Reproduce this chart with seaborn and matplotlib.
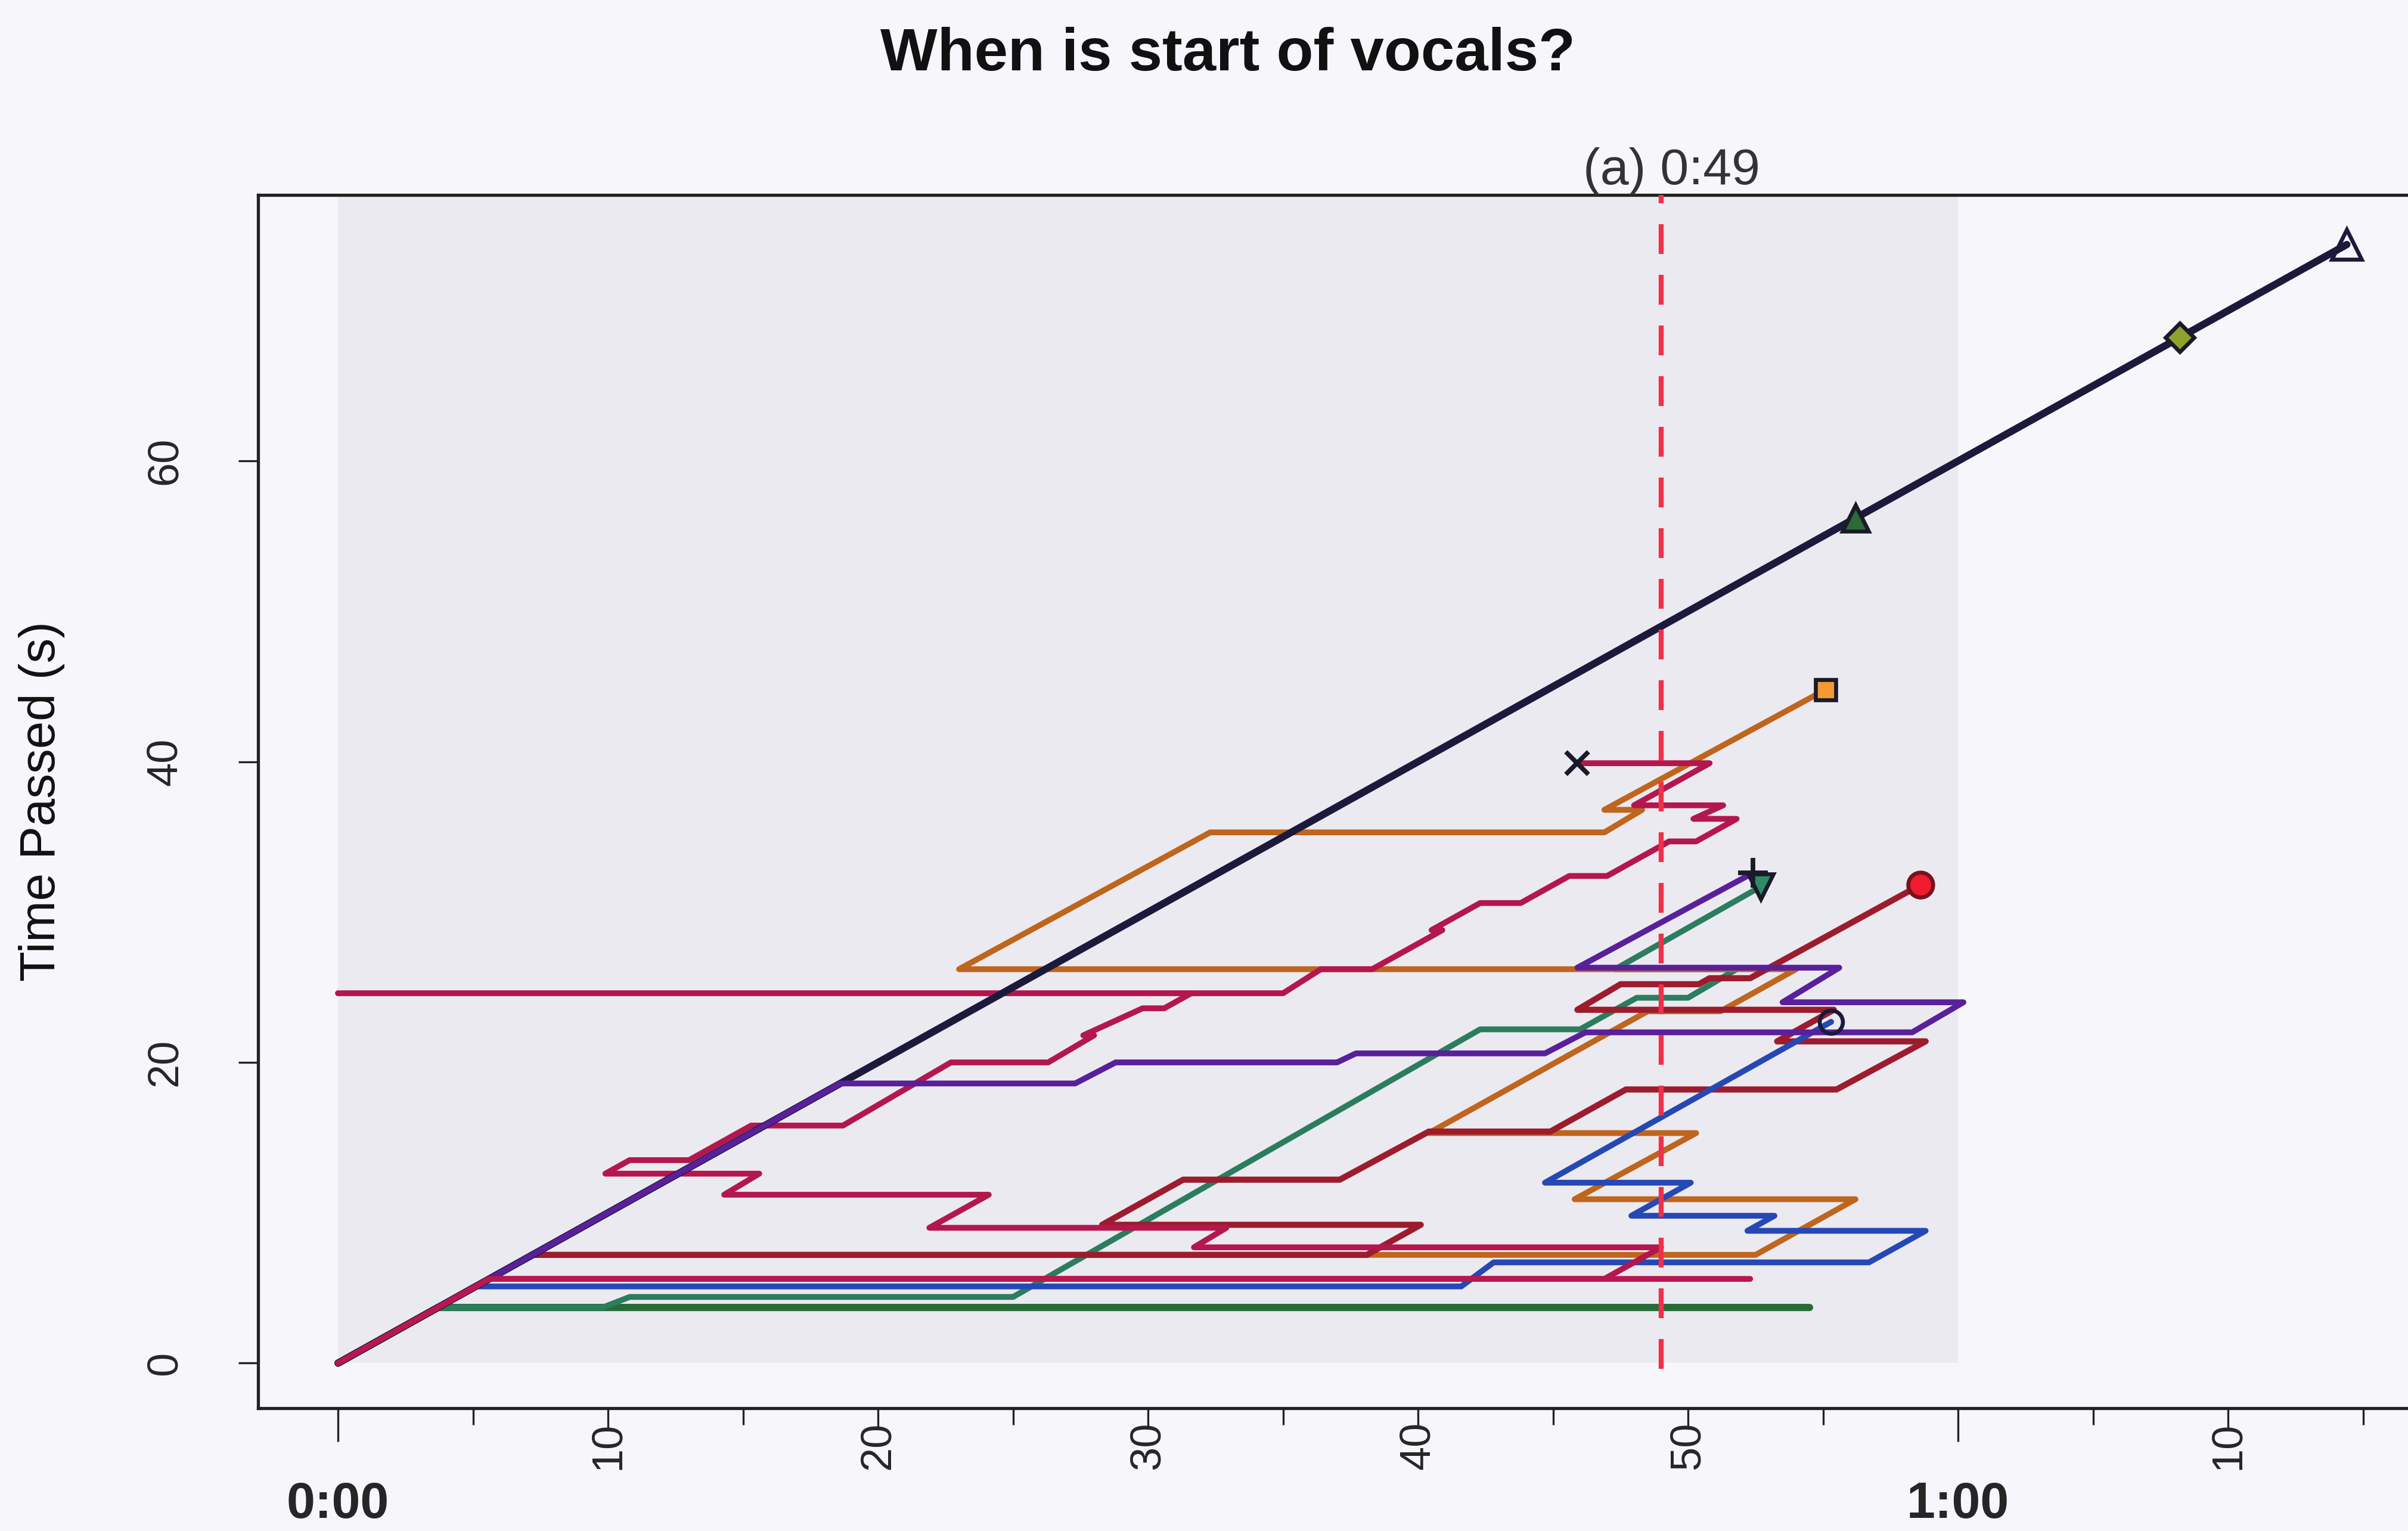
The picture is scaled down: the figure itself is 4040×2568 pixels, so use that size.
import matplotlib
matplotlib.use("Agg")
import matplotlib.pyplot as plt
import matplotlib.transforms as mtransforms
from matplotlib.patches import Rectangle
import numpy as np
import pandas as pd
import seaborn as sns

# ---------------- data (song position x, time passed y, in seconds) ----------------
navy_x = [0, 74.4]
navy_y = [0, 74.4]

tri_x = [0, 56.2]
tri_y = [0, 56.2]

diamond_x = [0, 68.2]
diamond_y = [0, 68.2]

green_low_x = [0, 3.7, 54.5]
green_low_y = [0, 3.7, 3.7]

teal_x = [0, 3.7, 9.8, 10.8, 25.0, 42.3, 46.0, 48.1, 50.0, 51.8, 47.3, 52.7]
teal_y = [0, 3.7, 3.7, 4.4, 4.4, 22.2, 22.2, 24.3, 24.3, 26.2, 26.2, 31.7]

crimson_low_x = [0, 5.6, 52.3]
crimson_low_y = [0, 5.6, 5.6]

crimson_x = [0, 5.6, 46.9, 49.0, 31.7, 32.9, 21.9, 24.1, 14.3, 15.6, 9.9, 10.8,
             13.0, 15.3, 18.7, 22.7, 26.3, 28.0, 27.6, 29.8, 30.6, 31.6, 35.0,
             36.4, 38.3, 40.9, 40.5, 42.3, 43.8, 45.6, 47.0, 49.3, 50.3, 51.8,
             50.2, 51.3, 48.0, 50.8, 45.9]
crimson_y = [0, 5.6, 5.6, 7.7, 7.7, 9.0, 9.0, 11.2, 11.2, 12.6, 12.6, 13.5,
             13.5, 15.8, 15.8, 20.0, 20.0, 21.8, 21.8, 23.6, 23.6, 24.6, 24.6,
             26.2, 26.2, 28.8, 28.8, 30.6, 30.6, 32.4, 32.4, 34.7, 34.7, 36.2,
             36.2, 37.1, 37.1, 39.9, 39.9]

crimson_seek_x = [0, 31.6]
crimson_seek_y = [24.6, 24.6]

maroon_x = [0, 7.2, 38.1, 40.1, 28.3, 31.3, 37.1, 40.4, 44.9, 47.7, 55.5, 58.8,
            53.3, 55.4, 45.9, 47.5, 50.4, 50.8, 52.3, 58.6]
maroon_y = [0, 7.2, 7.2, 9.2, 9.2, 12.2, 12.2, 15.4, 15.4, 18.2, 18.2, 21.4,
            21.4, 23.5, 23.5, 25.2, 25.2, 25.6, 25.6, 31.8]

orange_x = [0, 7.2, 52.5, 56.2, 45.8, 50.3, 40.4, 48.5, 51.2, 54.0, 23.0, 32.3,
            46.9, 48.3, 46.9, 55.1]
orange_y = [0, 7.2, 7.2, 10.9, 10.9, 15.3, 15.3, 23.4, 23.4, 26.2, 26.2, 35.3,
            35.3, 36.8, 36.8, 44.8]

blue_x = [0, 5.1, 41.6, 42.8, 56.7, 58.8, 52.2, 53.2, 47.9, 50.1, 44.7, 55.3]
blue_y = [0, 5.1, 5.1, 6.7, 6.7, 8.8, 8.8, 9.8, 9.8, 12.0, 12.0, 22.7]

purple_x = [0, 18.6, 27.3, 28.8, 37.0, 37.7, 44.7, 46.2, 58.3, 60.2, 53.5, 55.6,
            45.9, 52.4]
purple_y = [0, 18.6, 18.6, 20.0, 20.0, 20.6, 20.6, 22.0, 22.0, 24.0, 24.0, 26.3,
            26.3, 32.6]

song_end = 60          # shaded song region 0:00 - 1:00
vocal_start = 49       # (a) 0:49
vocal_label = "(a) 0:49"
x_major = [10, 20, 30, 40, 50, 70]
x_major_labels = ["10", "20", "30", "40", "50", "10"]
x_minor = [5, 15, 25, 35, 45, 55, 65, 75]
x_bold = [0, 60]
x_bold_labels = ["0:00", "1:00"]
y_ticks = [0, 20, 40, 60]

# ---------------- styles (draw order: first is at the bottom) ----------------
series = [
    # name, x, y, color, lw, marker, marker face, marker edge, marker size
    ("green_low", green_low_x, green_low_y, "#286b38", 4.4, None, None, None, 0),
    ("teal", teal_x, teal_y, "#2b7d5e", 3.5, "v", "#2f8a66", "#1a1a2a", 15),
    ("orange", orange_x, orange_y, "#bf651e", 3.5, "s", "#f49a32", "#1a1a2a", 12),
    ("maroon", maroon_x, maroon_y, "#9c1c2e", 3.7, "o", "#ee1c2c", "#7a1020", 15),
    ("blue", blue_x, blue_y, "#2648b5", 3.5, "o", "none", "#1a1a3a", 14),
    ("crimson", crimson_x, crimson_y, "#b3174d", 3.5, "x", None, "#1a1a2a", 14),
    ("crimson_seek", crimson_seek_x, crimson_seek_y, "#b3174d", 3.5, None, None, None, 0),
    ("diamond", diamond_x, diamond_y, "#6f7f25", 3.5, "D", "#8fa22e", "#1a1a2a", 12),
    ("tri", tri_x, tri_y, "#2a6d3a", 3.5, "^", "#2a6b38", "#1a1a2a", 16),
    ("navy", navy_x, navy_y, "#1b1a3c", 4.4, "^", "none", "#1b1a3c", 18),
    ("purple", purple_x, purple_y, "#5a1f9a", 3.5, "+", None, "#1a1a2a", 18),
    ("crimson_low", crimson_low_x, crimson_low_y, "#b8184f", 3.5, None, None, None, 0),
]

bg = "#f7f6fa"
shade = "#ebeaf0"

sns.set_theme(style="white")
plt.rcParams["font.family"] = ["Liberation Sans", "DejaVu Sans"]

fig = plt.figure(figsize=(20.2, 12.84), dpi=200)
fig.patch.set_facecolor(bg)
ax = fig.add_axes([0.1072, 0.0802, 0.8988, 0.7925])
ax.set_facecolor(bg)
ax.set_xlim(-2.96, 77.2)
ax.set_ylim(-3.0, 77.7)

# shaded song region
ax.add_patch(Rectangle((0, 0), song_end, 77.7, facecolor=shade, edgecolor="none", zorder=0))

# navigation paths
for name, xs, ys, col, lw, mk, mfc, mec, ms in series:
    sns.lineplot(x=xs, y=ys, sort=False, estimator=None, color=col, linewidth=lw,
                 ax=ax, zorder=2)

# vocal start line
ax.plot([vocal_start, vocal_start], [-0.4, 77.7], color="#f0304a", lw=3.0,
        dashes=(6.0, 4.2), zorder=3, solid_capstyle="butt")
ax.annotate(vocal_label, xy=(vocal_start, 1.0),
            xycoords=mtransforms.blended_transform_factory(ax.transData, ax.transAxes),
            xytext=(6.5, 0), textcoords="offset points",
            ha="center", va="bottom", fontsize=31, color="#333333")

# end markers
for name, xs, ys, col, lw, mk, mfc, mec, ms in series:
    if mk is None:
        continue
    if mk in ("x", "+"):
        ax.plot(xs[-1], ys[-1], marker=mk, ms=ms, mew=2.8, color=mec,
                linestyle="none", zorder=5)
    else:
        ax.plot(xs[-1], ys[-1], marker=mk, ms=ms, mfc=mfc, mec=mec, mew=2.4,
                linestyle="none", zorder=5)

# axes decoration
for s in ax.spines.values():
    s.set_color("#222222")
    s.set_linewidth(1.9)
ax.grid(False)

ax.set_xticks(x_major)
ax.set_xticklabels(x_major_labels, rotation=90, fontsize=26, va="top", ha="center")
ax.set_xticks(x_minor, minor=True)
ax.tick_params(axis="x", which="major", length=12, width=1.2, pad=-4, color="#222222",
               bottom=True)
ax.tick_params(axis="x", which="minor", length=10, width=1.2, color="#222222", bottom=True)

ax.set_yticks(y_ticks)
ax.set_yticklabels([str(v) for v in y_ticks], rotation=90, va="center", fontsize=26)
ax.tick_params(axis="y", which="major", length=12, width=1.2, pad=32, color="#222222",
               left=True)

sec = ax.secondary_xaxis("bottom")
sec.set_xticks(x_bold)
sec.set_xticklabels(x_bold_labels, fontweight="bold", fontsize=31)
sec.tick_params(axis="x", length=20, width=1.2, pad=24, color="#222222")
sec.spines["bottom"].set_visible(False)

fig.text(70 / 4040, 0.4765, "Time Passed (s)", rotation=90, ha="center", va="center",
         fontsize=30, color="#111111")
fig.text(0.51, 0.964, "When is start of vocals?", ha="center", va="center",
         fontsize=36.5, fontweight="bold", color="#111111")

fig.savefig("out.png", dpi=200, facecolor=bg)
